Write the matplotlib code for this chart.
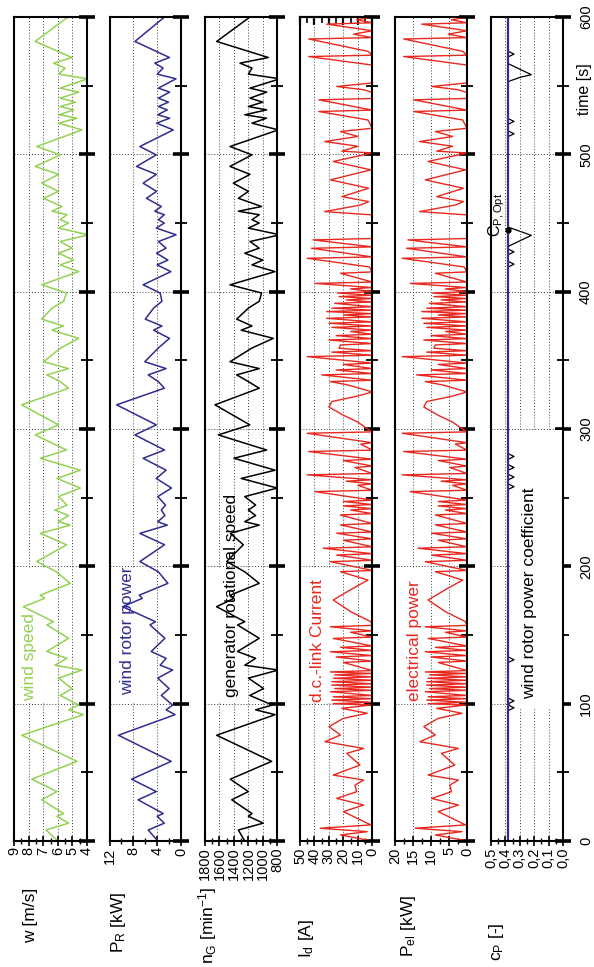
import matplotlib
matplotlib.use('Agg')
import matplotlib.pyplot as plt
from matplotlib.ticker import MultipleLocator, FixedLocator
import matplotlib.transforms as mtransforms
from matplotlib.patches import Rectangle

plt.rcParams['font.family'] = ['Liberation Sans', 'DejaVu Sans']
plt.rcParams['mathtext.fontset'] = 'custom'
plt.rcParams['mathtext.rm'] = 'Liberation Sans'
plt.rcParams['mathtext.it'] = 'Liberation Sans'

# ---------------- data ----------------
t_w = [0, 8, 13, 18, 20, 30, 36, 45, 58, 77, 92, 95.5, 99, 106, 111, 118.6, 124.5, 128, 133, 138,
       147.6, 157.3, 159.7, 170.6, 176.7, 179, 187.6, 196, 203.5, 215.7, 224, 230, 232.5, 237, 241,
       244.6, 250.8, 257, 264, 270, 278.7, 284.7, 295.7, 303, 317.6, 329.7, 334.5, 339.4, 344, 349,
       359, 366, 372, 375, 380, 388, 393, 399, 405, 414.6, 419.5, 423, 428, 431.7, 436.5, 441.4,
       446.3, 450, 452.4, 456, 458.6, 462, 468, 473, 479, 485.4, 491.2, 499.6, 505.7, 517.8, 522.7,
       526.3, 528.8, 532.4, 534.8, 538, 540.9, 545.3, 548.2, 555, 558.4, 562.8, 566.4, 570.5, 582.2, 600]
wind_speed = [6.0, 6.8, 5.26, 6.06, 5.6, 7.1, 6.06, 7.78, 4.69, 8.47, 4.25, 5.26, 4.57, 5.83, 5.03, 5.95,
              4.34, 6.2, 5.37, 6.75, 5.26, 6.75, 6.3, 8.36, 6.9, 7.2, 5.15, 6.1, 7.44, 5.4, 7.2, 5.15,
              5.95, 5.26, 6.2, 5.37, 5.95, 4.46, 6.06, 4.46, 7.2, 5.4, 7.55, 5.95, 8.47, 5.26, 5.83, 6.75,
              5.26, 6.98, 5.8, 4.57, 6.4, 5.6, 7.1, 6.4, 5.6, 5.4, 7.1, 4.57, 5.83, 4.92, 5.95, 5.03,
              5.83, 3.9, 5.95, 5.26, 5.83, 5.37, 6.4, 5.72, 6.98, 5.95, 7.1, 5.95, 7.55, 5.83, 7.44, 4.34,
              5.95, 4.69, 5.88, 4.92, 5.83, 4.8, 5.83, 4.57, 5.83, 3.95, 5.95, 5.5, 6.29, 5.03, 7.55, 5.3]
rotor_power = [3.9, 5.5, 2.8, 4.0, 3.0, 7.2, 4.15, 8.3, 1.65, 10.5, 1.0, 2.5, 1.4, 3.3, 2.0, 3.9,
               1.4, 3.5, 2.5, 5.0, 2.7, 5.2, 4.3, 9.8, 6.5, 7.0, 2.2, 3.8, 6.9, 2.76, 6.9, 2.3,
               3.9, 2.7, 3.3, 2.6, 3.9, 1.6, 4.15, 2.5, 6.36, 2.76, 7.74, 4.15, 10.8, 2.8, 3.8, 5.5,
               2.5, 6.08, 3.8, 1.93, 4.6, 3.2, 6.0, 4.6, 3.2, 3.5, 6.36, 1.7, 4.0, 2.2, 4.1, 2.5,
               3.8, 0.83, 4.15, 2.8, 3.8, 2.8, 4.4, 3.3, 5.8, 4.1, 6.36, 4.15, 7.46, 4.15, 6.9, 1.3,
               4.1, 1.9, 3.9, 2.3, 3.8, 2.1, 3.8, 1.9, 3.8, 0.83, 4.0, 3.0, 4.4, 1.93, 7.74, 2.76]
gen_speed = [1250, 1339, 994, 1200, 1150, 1430, 1200, 1450, 878, 1639, 830, 1100, 870, 1180, 990, 1200,
             786, 1250, 1100, 1350, 1050, 1350, 1250, 1640, 1400, 1450, 1050, 1250, 1500, 1270, 1450, 1050,
             1250, 1100, 1200, 1100, 1250, 800, 1300, 830, 1400, 947, 1616, 1180, 1662, 1050, 1200, 1362,
             1050, 1454, 1150, 855, 1300, 1150, 1362, 1200, 1050, 1017, 1454, 832, 1150, 1000, 1250, 1050,
             1178, 763, 1200, 1050, 1150, 1050, 1339, 1017, 1339, 1200, 1408, 1178, 1454, 1150, 1454, 786,
             1150, 950, 1250, 947, 1200, 1000, 1178, 947, 1178, 763, 1200, 1150, 1316, 924, 1639, 1178]

t_i = [0, 4.4, 6.8, 9.3, 11.7, 21.4, 26.2, 31, 35.9, 40.7, 44.4, 48, 55.3, 63.8, 67.4, 72.3, 77.2,
       83.3, 89.3, 93, 96.6, 99,
       100, 101, 102.6, 103.6, 105, 106, 108.7, 109.7, 111, 112, 113.5, 114.5, 116, 117, 118.5, 119.5,
       121, 122, 123.1, 124.1, 130, 131, 134, 135, 137.8, 138.8, 141, 142, 147.5, 148.5, 152, 153,
       156, 157, 159.7, 167, 175.5, 183, 190,
       196.1, 197, 203.4, 204.4, 208.2, 209.2, 213.2, 214.2, 219, 220, 224.1, 225, 230.2, 231.2,
       237.4, 238.4, 241, 242, 244, 245, 247.2, 248.2, 254.4, 255.4, 259, 260, 262, 263, 266.6, 267.6,
       272, 273, 277, 278, 283.6, 284.6, 289, 290, 296.9, 297.9,
       300.6, 305, 310, 316, 320, 324, 327,
       332.1, 334.5, 335.5, 339.4, 340.4, 343, 344, 347, 348, 352.7, 353.7, 356, 357, 358.8, 361.2,
       362.2, 364.8, 365.8, 368, 369, 371, 372, 374, 375, 377, 378, 380.6, 381.6, 383, 384, 385.5, 386.5,
       388, 389, 391.5, 392.5, 394, 395, 396.4, 397.4, 399, 400, 402, 403, 406, 407,
       413.4, 414.4, 418, 424.3, 425.3, 431.6, 432.6, 437.7, 438.7, 445, 455.9, 458.3, 463.1,
       465.6, 469.2, 475.3, 481.4, 488.7, 494.8, 501, 502.3, 505.9, 509.3, 513, 516.6, 519, 525, 531.2,
       532.2, 539.7, 540.7, 545, 547, 549.4, 552, 565, 571.2, 572.2, 575, 584, 585, 587.5, 590, 594.8,
       595.8, 598, 600]
dc_current = [0, 22, 3.5, 36, 1, 20, 6, 24.6, 10.8, 12, 6, 27, 8.5, 17.7, 6, 32.7, 22,
              30, 20, 3.5, 21, 1,
              27, 0, 28, 0, 27, 0, 29, 0, 26, 0, 28, 0, 28, 0, 27, 0,
              26, 0, 29, 0, 20, 0, 25, 0, 29, 0, 22, 0, 27, 0, 15, 0,
              29, 0, 1, 15, 27, 15, 3,
              22, 0, 29, 0, 24.6, 0, 34, 0, 20, 0, 24.6, 0, 22, 0,
              22, 0, 15, 0, 20, 0, 20, 0, 39.6, 0, 10, 0, 18, 0, 45, 0,
              12, 0, 20, 0, 44, 0, 8, 0, 45, 0,
              4, 10, 20, 30, 28, 10, 0,
              17, 29, 0, 35, 0, 25, 0, 20, 0, 45, 0, 28, 0, 23, 22,
              0, 30, 0, 25, 0, 15, 0, 28, 0, 30, 0, 31.6, 0, 20, 0, 31.6, 0,
              28, 0, 26, 0, 18, 0, 23, 0, 24, 0, 15, 0, 39.6, 0,
              22, 0, 2, 45, 0, 42, 0, 41, 0, 0, 0, 33, 8,
              2.5, 21, 2.5, 29, 1, 27, 0, 21, 10, 33, 10, 22, 0, 3, 37,
              0, 37, 0, 0, 5.8, 24.6, 0, 0, 44, 0, 3, 44, 0, 13, 0, 31.6,
              0, 10.8, 0]
el_power = [0, 8.8, 1.4, 14.4, 0.4, 8, 2.4, 9.8, 4.3, 4.8, 2.4, 10.8, 3.4, 7.1, 2.4, 13.1, 8.8,
            12, 8, 1.4, 8.4, 0.4,
            10.8, 0, 11.2, 0, 10.8, 0, 11.6, 0, 10.4, 0, 11.2, 0, 11.2, 0, 10.8, 0,
            10.4, 0, 11.6, 0, 8, 0, 10, 0, 11.6, 0, 8.8, 0, 10.8, 0, 6, 0,
            11.6, 0, 0.4, 6, 10.8, 6, 1.2,
            8.8, 0, 11.6, 0, 9.8, 0, 13.6, 0, 8, 0, 9.8, 0, 8.8, 0,
            8.8, 0, 6, 0, 8, 0, 8, 0, 15.8, 0, 4, 0, 7.2, 0, 18, 0,
            4.8, 0, 8, 0, 17.6, 0, 3.2, 0, 18, 0,
            1.6, 4, 8, 12, 11.2, 4, 0,
            6.8, 11.6, 0, 14, 0, 10, 0, 8, 0, 18, 0, 11.2, 0, 9.2, 8.8,
            0, 12, 0, 10, 0, 6, 0, 11.2, 0, 12, 0, 12.6, 0, 8, 0, 12.6, 0,
            11.2, 0, 10.4, 0, 7.2, 0, 9.2, 0, 9.6, 0, 6, 0, 15.8, 0,
            8.8, 0, 0.8, 18, 0, 16.8, 0, 16.4, 0, 0, 0, 13.2, 3.2,
            1, 8.4, 1, 11.6, 0.4, 10.8, 0, 8.4, 4, 13.2, 4, 8.8, 0, 1.2, 14.8,
            0, 14.8, 0, 0, 2.3, 9.8, 0, 0, 17.6, 0, 1.2, 17.6, 0, 5.2, 0, 12.6,
            0, 4.3, 0]

t_cp = [0, 95, 97, 99, 100, 102, 104, 130, 132, 134, 256, 258, 260, 263, 265, 267, 270, 272, 274,
        278, 280, 282, 418, 420, 422, 427, 429, 431, 433, 437, 441, 444, 447, 513, 515, 517, 522, 524,
        526, 553, 556, 558, 562, 566, 571, 573, 575, 600]
cp_actual = [0.38, 0.38, 0.34, 0.38, 0.38, 0.34, 0.38, 0.38, 0.34, 0.38, 0.38, 0.34, 0.38, 0.38, 0.34,
             0.38, 0.38, 0.34, 0.38, 0.38, 0.34, 0.38, 0.38, 0.34, 0.38, 0.38, 0.34, 0.38, 0.38, 0.30,
             0.22, 0.30, 0.38, 0.38, 0.34, 0.38, 0.38, 0.34, 0.38, 0.38, 0.30, 0.22, 0.30, 0.38, 0.38,
             0.34, 0.38, 0.38]
t_cpopt = [0, 600]
cp_opt = [0.38, 0.38]
cp_opt_mark_t = [445]
cp_opt_mark_v = [0.38]

time_ticks = [0, 100, 200, 300, 400, 500, 600]

# ---------------- figure ----------------
W, H = 594, 967
fig = plt.figure(figsize=(W / 100, H / 100), dpi=100)

GREEN = '#93d152'
NAVY = '#2f2d8e'
RED = '#e8281f'

panels = [
    dict(x0=14, x1=87, xlim=(9, 4), major=[9, 8, 7, 6, 5, 4], minor=0.5,
         labels=['9', '8', '7', '6', '5', '4'], ylabel='w [m/s]', lx=31, ly=915),
    dict(x0=109.5, x1=181, xlim=(12, 0), major=[12, 8, 4, 0], minor=2,
         labels=['12', '8', '4', '0'], ylabel=r'P$_\mathregular{R}$ [kW]', lx=119, ly=922),
    dict(x0=205, x1=277.3, xlim=(1800, 800), major=[1800, 1600, 1400, 1200, 1000, 800], minor=100,
         labels=['1800', '1600', '1400', '1200', '1000', '800'],
         ylabel=r'n$_\mathregular{G}$ [min$^\mathregular{-1}$]', lx=208, ly=925),
    dict(x0=300, x1=372.3, xlim=(50, 0), major=[50, 40, 30, 20, 10, 0], minor=5,
         labels=['50', '40', '30', '20', '10', '0'], ylabel=r'I$_\mathregular{d}$ [A]', lx=307, ly=938),
    dict(x0=395, x1=467, xlim=(20, 0), major=[20, 15, 10, 5, 0], minor=2.5,
         labels=['20', '15', '10', '5', '0'], ylabel=r'P$_\mathregular{el}$ [kW]', lx=408, ly=926),
    dict(x0=491, x1=563, xlim=(0.5, 0.0), major=[0.5, 0.4, 0.3, 0.2, 0.1, 0.0], minor=0.05,
         labels=['0,5', '0,4', '0,3', '0,2', '0,1', '0,0'], ylabel=r'c$_\mathregular{P}$ [-]', lx=497, ly=942),
]

axes = []
for i, p in enumerate(panels):
    ax = fig.add_axes([p['x0'] / W, (H - 841) / H, (p['x1'] - p['x0']) / W, 824 / H])
    axes.append(ax)
    ax.set_ylim(0, 600)
    ax.set_xlim(*p['xlim'])
    ax.set_axisbelow(True)
    for s in ax.spines.values():
        s.set_linewidth(1.5)
        s.set_color('black')
        s.set_zorder(5)
    ax.yaxis.tick_right()
    ax.yaxis.set_major_locator(FixedLocator(time_ticks))
    ax.yaxis.set_minor_locator(MultipleLocator(50))
    ax.tick_params(axis='y', which='major', direction='inout', length=11, width=2.6,
                   labelright=(i == 5), labelleft=False, labelrotation=90, pad=6, labelsize=10.5)
    ax.tick_params(axis='y', which='minor', direction='inout', length=8, width=1.3)
    ax.xaxis.set_major_locator(FixedLocator(p['major']))
    ax.xaxis.set_minor_locator(MultipleLocator(p['minor']))
    ax.set_xticklabels(p['labels'])
    ax.tick_params(axis='x', which='major', direction='inout', length=7, width=1.2,
                   labelrotation=90, pad=1, labelsize=10.5)
    ax.tick_params(axis='x', which='minor', direction='inout', length=5, width=1.0)
    ax.grid(True, which='major', linestyle=(0, (1, 2)), color='0.25', linewidth=0.7)
    fig.text(p['lx'] / W, 1 - p['ly'] / H, p['ylabel'], rotation=90, ha='center', va='center',
             fontsize=12.5)
    if i == 3:
        sec = ax.secondary_xaxis('top')
        sec.xaxis.set_major_locator(FixedLocator(p['major']))
        sec.xaxis.set_minor_locator(MultipleLocator(p['minor']))
        sec.set_xticklabels([])
        sec.tick_params(which='major', direction='in', length=6, width=1.6)
        sec.tick_params(which='minor', direction='in', length=4, width=1.2)
        sec.spines['top'].set_linewidth(1.5)

for lab in axes[5].get_yticklabels():
    lab.set_va('center')

ax1, ax2, ax3, ax4, ax5, ax6 = axes

ax1.plot(wind_speed, t_w, color=GREEN, lw=1.1, zorder=2)
ax2.plot(rotor_power, t_w, color=NAVY, lw=1.1, zorder=2)
ax3.plot(gen_speed, t_w, color='black', lw=1.1, zorder=2)
ax4.plot(dc_current, t_i, color=RED, lw=1.0, zorder=2)
ax5.plot(el_power, t_i, color=RED, lw=1.0, zorder=2)
ax6.plot(cp_actual, t_cp, color='black', lw=0.9, zorder=2)
ax6.plot(cp_opt, t_cpopt, color=NAVY, lw=1.6, zorder=3)
ax6.plot(cp_opt_mark_v, cp_opt_mark_t, 'o', color='black', ms=3.5, zorder=4)


def box(ax, f0, f1, t0, t1):
    tr = mtransforms.blended_transform_factory(ax.transAxes, ax.transData)
    ax.add_patch(Rectangle((f0, t0), f1 - f0, t1 - t0, transform=tr, facecolor='white',
                           edgecolor='none', zorder=1.5))


box(ax1, 0.01, 0.49, 101, 199)
box(ax2, 0.01, 0.49, 101, 199)
box(ax3, 0.01, 0.5, 101, 199)
box(ax4, 0.01, 0.5, 101, 199)
box(ax5, 0.01, 0.5, 101, 199)
box(ax6, 0.29, 0.99, 96, 299)

ax1.text(7.95, 134, 'wind speed', color=GREEN, rotation=90, ha='center', va='center', fontsize=12.5, zorder=1.8)
ax2.text(8.9, 153, 'wind rotor power', color=NAVY, rotation=90, ha='center', va='center', fontsize=12.5, zorder=3)
ax3.text(1427, 178.5, 'generator rotational speed', color='black', rotation=90, ha='center', va='center',
         fontsize=12.5, zorder=3)
ax4.text(38, 146, 'd.c.-link Current', color=RED, rotation=90, ha='center', va='center', fontsize=12.5, zorder=3)
ax5.text(14.5, 145.6, 'electrical power', color=RED, rotation=90, ha='center', va='center', fontsize=12.5, zorder=3)
ax6.text(0.23, 180.6, 'wind rotor power coefficient', color='black', rotation=90, ha='center', va='center',
         fontsize=12.5, zorder=3)
ax6.text(0.46, 456, r'C$_\mathregular{P,Opt}$', color='black', rotation=90, ha='center', va='center',
         fontsize=11.5, zorder=4)

fig.text(585 / W, 1 - 89 / H, 'time [s]', rotation=90, ha='center', va='center', fontsize=11.5)

fig.savefig('out.png', dpi=100)
